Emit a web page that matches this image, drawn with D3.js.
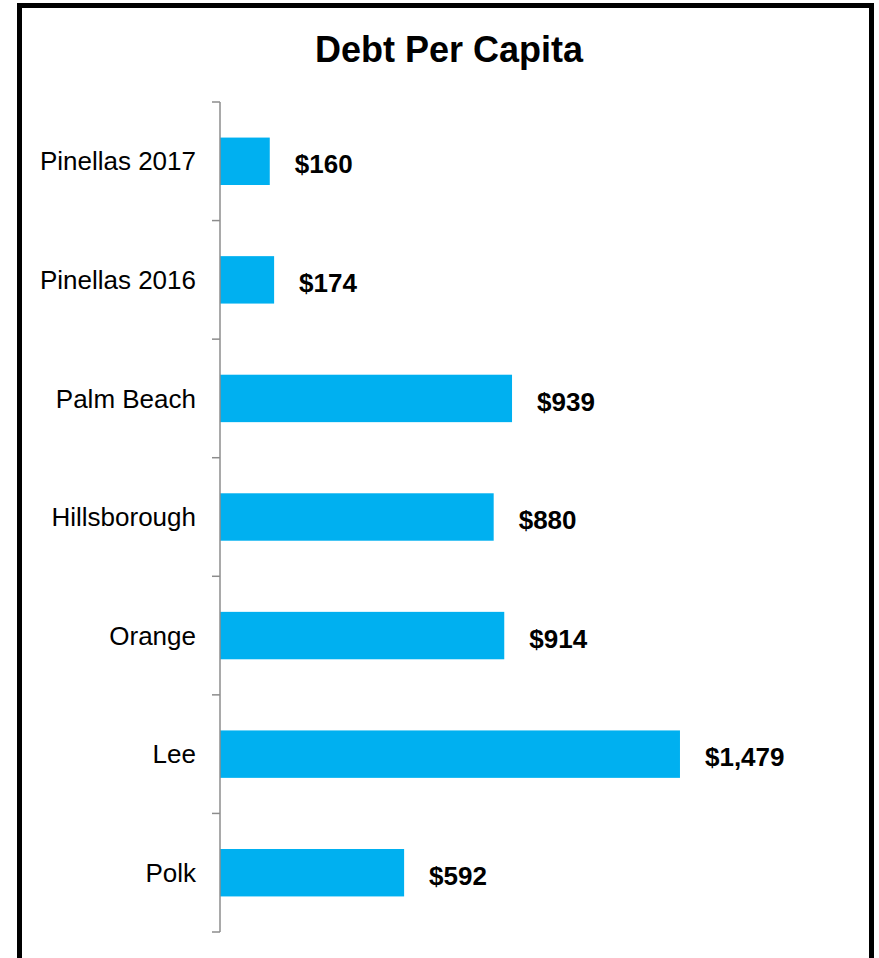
<!DOCTYPE html>
<html>
<head>
<meta charset="utf-8">
<script src="https://cdn.jsdelivr.net/npm/d3@7"></script>
<style>
    html, body { margin: 0; padding: 0; background: #fff; }
    svg { display: block; font-family: Arial, "Liberation Sans", sans-serif; }
</style>
</head>
<body>
<svg id="chart" width="879" height="958"></svg>
<script>
// === DATA ===

const categories = ['Pinellas 2017', 'Pinellas 2016', 'Palm Beach', 'Hillsborough', 'Orange', 'Lee', 'Polk'];
const debtPerCapita = [160, 174, 939, 880, 914, 1479, 592];
const title = 'Debt Per Capita';

// === LAYOUT ===

const BAR_COLOR = '#00b0f0';
const AXIS_COLOR = '#8c8c8c';
const plot = { left: 220, top: 102, bottom: 932 };

const svg = d3.select('#chart');

// outer frame (runs past the bottom edge of the picture)
svg.append('rect')
    .attr('x', 19.5)
    .attr('y', 5.5)
    .attr('width', 852)
    .attr('height', 1000)
    .attr('fill', 'none')
    .attr('stroke', '#000')
    .attr('stroke-width', 5);

svg.append('text')
    .attr('x', 449)
    .attr('y', 62)
    .attr('text-anchor', 'middle')
    .attr('font-size', 36)
    .attr('font-weight', 'bold')
    .attr('fill', '#000')
    .text(title);

// === SCALES ===

const x = d3.scaleLinear()
    .domain([0, 1600])
    .range([plot.left, plot.left + 1600 * 0.311]);

const y = d3.scaleBand()
    .domain(categories)
    .range([plot.top, plot.bottom])
    .paddingInner(0.6)
    .paddingOuter(0.3);

const rows = categories.map((c, i) => ({ name: c, value: debtPerCapita[i] }));

// === BARS ===

svg.selectAll('.bar')
    .data(rows)
    .join('rect')
    .attr('class', 'bar')
    .attr('x', x(0))
    .attr('y', d => y(d.name))
    .attr('width', d => x(d.value) - x(0))
    .attr('height', y.bandwidth())
    .attr('fill', BAR_COLOR);

// === CATEGORY AXIS (ticks between categories, Excel style) ===

const axis = svg.append('g').attr('class', 'y-axis');
const tickYs = d3.range(categories.length + 1).map(i => plot.top + i * y.step());

axis.append('line')
    .attr('x1', plot.left).attr('x2', plot.left)
    .attr('y1', plot.top).attr('y2', plot.bottom)
    .attr('stroke', AXIS_COLOR)
    .attr('stroke-width', 1.5);

axis.selectAll('.tick')
    .data(tickYs)
    .join('line')
    .attr('class', 'tick')
    .attr('x1', plot.left - 8).attr('x2', plot.left)
    .attr('y1', d => d).attr('y2', d => d)
    .attr('stroke', AXIS_COLOR)
    .attr('stroke-width', 1.5);

axis.selectAll('.cat-label')
    .data(rows)
    .join('text')
    .attr('class', 'cat-label')
    .attr('x', 196)
    .attr('y', d => y(d.name) + y.bandwidth() / 2)
    .attr('dy', '0.35em')
    .attr('text-anchor', 'end')
    .attr('font-size', 26)
    .attr('fill', '#000')
    .text(d => d.name);

// === VALUE LABELS ===

const fmt = d3.format('$,');

svg.selectAll('.value-label')
    .data(rows)
    .join('text')
    .attr('class', 'value-label')
    .attr('x', d => x(d.value) + 25)
    .attr('y', d => y(d.name) + y.bandwidth() / 2 + 3)
    .attr('dy', '0.35em')
    .attr('font-size', 26)
    .attr('font-weight', 'bold')
    .attr('fill', '#000')
    .text(d => fmt(d.value));
</script>
</body>
</html>
